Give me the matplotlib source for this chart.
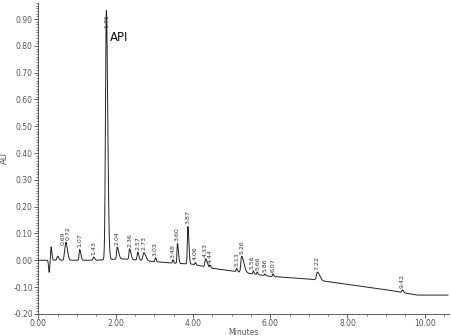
import numpy as np
import matplotlib.pyplot as plt
from matplotlib.ticker import MultipleLocator

# baseline (minutes, AU)
base_t = [0.0, 1.5, 2.2, 3.0, 3.4, 4.0, 4.5, 5.0, 6.0, 7.0, 8.0, 9.0, 9.8, 10.6]
base_y = [0.0, 0.0, 0.005, -0.005, -0.01, -0.015, -0.03, -0.04, -0.06, -0.07, -0.09, -0.11, -0.13, -0.13]

# peaks: retention time, height above baseline, left / right width (min)
peak_t = [0.28, 0.33, 0.50, 0.69, 0.72, 1.07, 1.43, 1.76, 2.04, 2.36, 2.57, 2.73,
          3.03, 3.48, 3.60, 3.87, 4.06, 4.33, 4.44, 5.13, 5.26, 5.56, 5.66, 5.86,
          6.07, 7.22, 9.42]
peak_h = [-0.045, 0.05, 0.015, 0.035, 0.04, 0.04, 0.012, 0.93, 0.045, 0.04, 0.03, 0.03,
          0.015, 0.012, 0.075, 0.14, 0.008, 0.03, 0.01, 0.012, 0.06, 0.012, 0.01, 0.006,
          0.01, 0.03, 0.01]
peak_wl = [0.015, 0.012, 0.02, 0.02, 0.02, 0.015, 0.015, 0.022, 0.015, 0.015, 0.015, 0.025,
           0.012, 0.01, 0.012, 0.014, 0.01, 0.02, 0.01, 0.012, 0.02, 0.01, 0.01, 0.01,
           0.01, 0.025, 0.015]
peak_wr = [0.015, 0.02, 0.03, 0.04, 0.04, 0.03, 0.03, 0.035, 0.04, 0.035, 0.03, 0.05,
           0.02, 0.02, 0.025, 0.025, 0.02, 0.04, 0.02, 0.02, 0.06, 0.02, 0.02, 0.02,
           0.02, 0.06, 0.03]
labels = ["", "", "", "0.69", "0.72", "1.07", "1.43", "1.76", "2.04", "2.36", "2.57", "2.73",
          "3.03", "3.48", "3.60", "3.87", "4.06", "4.33", "4.44", "5.13", "5.26", "5.56",
          "5.66", "5.86", "6.07", "7.22", "9.42"]

t = np.linspace(0, 10.6, 6000)
y = np.interp(t, base_t, base_y)
for t0, h, wl, wr in zip(peak_t, peak_h, peak_wl, peak_wr):
    w = np.where(t < t0, wl, wr)
    y = y + h * np.exp(-0.5 * ((t - t0) / w) ** 2)

fig = plt.figure(figsize=(4.51, 3.36), dpi=100)
ax = fig.add_axes([0.085, 0.066, 0.91, 0.925])
ax.plot(t, y, color='#222222', lw=0.7)

# small sideways nudge where two labels sit on top of each other
nudge = {"0.69": -0.05, "0.72": 0.05, "5.56": -0.02, "5.66": 0.02}
for t0, lab in zip(peak_t, labels):
    if not lab:
        continue
    top = np.interp(t0, t, y)
    if lab == "1.76":
        ax.text(t0, top - 0.04, lab, rotation=90, fontsize=4.5, color='#333333',
                ha='center', va='center')
    else:
        ax.text(t0 + nudge.get(lab, 0), top + 0.008, lab, rotation=90, fontsize=4.5,
                color='#333333', ha='center', va='bottom')

ax.text(1.86, 0.83, "API", fontsize=8.5, color='#111111', ha='left', va='center')

ax.set_xlim(0, 10.62)
ax.set_ylim(-0.20, 0.96)
ax.xaxis.set_major_locator(MultipleLocator(2))
ax.xaxis.set_minor_locator(MultipleLocator(0.5))
ax.yaxis.set_major_locator(MultipleLocator(0.1))
ax.yaxis.set_minor_locator(MultipleLocator(0.01))
ax.xaxis.set_major_formatter(plt.FuncFormatter(lambda v, p: "%.2f" % v))
ax.yaxis.set_major_formatter(plt.FuncFormatter(lambda v, p: "%.2f" % v if v < 0.95 else ""))
ax.tick_params(which='major', length=3, width=0.6, labelsize=5.5, labelcolor='#555555', color='#444444', pad=1)
ax.tick_params(which='minor', length=1.5, width=0.5, color='#444444')
for s in ['top', 'right']:
    ax.spines[s].set_visible(False)
for s in ['left', 'bottom']:
    ax.spines[s].set_linewidth(0.6)
    ax.spines[s].set_color('#444444')

ax.set_ylabel("AU", fontsize=6, color='#555555', labelpad=3)
ax.set_xlabel("Minutes", fontsize=5.5, color='#555555', labelpad=0)

fig.savefig("out.png", dpi=100)
